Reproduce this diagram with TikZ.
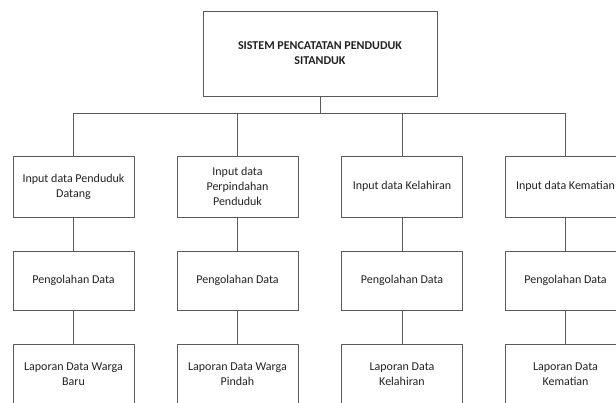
\documentclass[tikz,border=0pt]{standalone}
\usepackage{fontspec}
\setmainfont{Carlito}
\definecolor{linegray}{HTML}{5A5A5A}
\definecolor{textdark}{HTML}{222222}
\tikzset{
  box/.style={draw=linegray, line width=0.9pt, minimum width=121pt, minimum height=61pt,
    inner sep=0pt, align=center, text=textdark,
    font=\fontsize{12}{14.8}\selectfont},
  topbox/.style={box, minimum width=234pt, minimum height=85pt,
    font=\fontsize{12}{15}\selectfont\bfseries},
  conn/.style={draw=linegray, line width=0.9pt}
}
\begin{document}
\begin{tikzpicture}[x=1pt,y=-1pt]
\useasboundingbox (0,0) rectangle (616,403);
\clip (0,0) rectangle (616,403);
\node[topbox] (top) at (320,53.5) {SISTEM PENCATATAN PENDUDUK\\SITANDUK};
\coordinate (bus) at (320,113);
% level 1
\node[box] (a1) at (73.5,186.5) {Input data Penduduk\\Datang};
\node[box] (b1) at (237.5,186.5) {Input data\\Perpindahan\\Penduduk};
\node[box] (c1) at (402,186.5) {Input data Kelahiran};
\node[box] (d1) at (565.5,186.5) {Input data Kematian};
% level 2
\node[box, minimum height=59pt] (a2) at (73.5,280.5) {Pengolahan Data};
\node[box, minimum height=59pt] (b2) at (237.5,280.5) {Pengolahan Data};
\node[box, minimum height=59pt] (c2) at (402,280.5) {Pengolahan Data};
\node[box, minimum height=59pt] (d2) at (565.5,280.5) {Pengolahan Data};
% level 3
\node[box] (a3) at (73.5,374.5) {Laporan Data Warga\\Baru};
\node[box] (b3) at (237.5,374.5) {Laporan Data Warga\\Pindah};
\node[box] (c3) at (402,374.5) {Laporan Data\\Kelahiran};
\node[box] (d3) at (565.5,374.5) {Laporan Data\\Kematian};
% connectors
\draw[conn] (top.south) -- (bus);
\foreach \n in {a,b,c,d}{
  \draw[conn] (bus) -| (\n1.north);
  \draw[conn] (\n1.south) -- (\n2.north);
  \draw[conn] (\n2.south) -- (\n3.north);
}
\end{tikzpicture}
\end{document}
